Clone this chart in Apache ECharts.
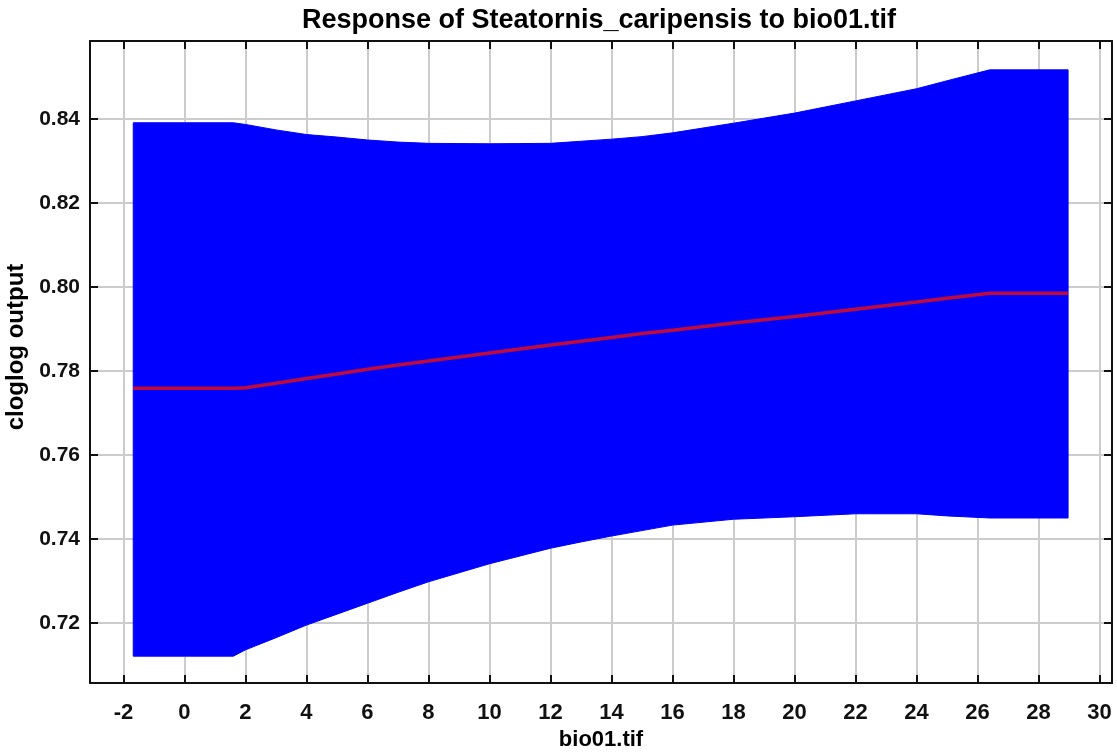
<!DOCTYPE html>
<html>
<head>
<meta charset="utf-8">
<script src="https://cdn.jsdelivr.net/npm/echarts@6/dist/echarts.min.js"></script>
<style>
html,body{margin:0;padding:0;background:#fff;}
#chart{width:1117px;height:753px;}
</style>
</head>
<body>
<div id="chart"></div>
<script>
// ---- data ----
var xValues = [-1.68, 0, 1.6, 2, 3, 4, 5, 6, 7, 8, 10, 12, 13, 14, 15, 16, 18, 20, 22, 24, 25, 26.4, 28.97];
var upperValues = [0.8391, 0.8391, 0.8391, 0.8387, 0.8374, 0.8363, 0.8357, 0.8350, 0.8345, 0.8342, 0.8341, 0.8342, 0.8347, 0.8352, 0.8358, 0.8367, 0.8390, 0.8414, 0.8443, 0.8472, 0.8491, 0.8517, 0.8517];
var lowerValues = [0.7121, 0.7121, 0.7121, 0.7136, 0.7165, 0.7195, 0.7221, 0.7247, 0.7273, 0.7298, 0.7341, 0.7378, 0.7393, 0.7407, 0.7420, 0.7433, 0.7447, 0.7453, 0.7460, 0.7460, 0.7455, 0.7450, 0.7450];
var meanValues = [0.7759, 0.7759, 0.7759, 0.7760, 0.7771, 0.7782, 0.7793, 0.7804, 0.7814, 0.7824, 0.7843, 0.7862, 0.7871, 0.7880, 0.7889, 0.7897, 0.7914, 0.7930, 0.7947, 0.7964, 0.7973, 0.7985, 0.7985];
var xTicks = [-2, 0, 2, 4, 6, 8, 10, 12, 14, 16, 18, 20, 22, 24, 26, 28, 30];
var yTicks = [0.72, 0.74, 0.76, 0.78, 0.80, 0.82, 0.84];
var titleText = 'Response of Steatornis_caripensis to bio01.tif';
var xName = 'bio01.tif';
var yName = 'cloglog output';

// ---- build series data ----
var bandData = xValues.map(function (x, i) { return [x, lowerValues[i], upperValues[i]]; });
var meanData = xValues.map(function (x, i) { return [x, meanValues[i]]; });

var FONT = 'Liberation Sans, Arial, Helvetica, sans-serif';
var gridLine = { show: true, lineStyle: { color: '#cccccc', width: 2 } };
var axisLine = { show: true, onZero: false, lineStyle: { color: '#111', width: 2 } };
var tickStyle = { color: '#111', width: 2 };

function renderBand(params, api) {
  if (params.dataIndex !== 0) return null;
  var pts = [];
  var i;
  for (i = 0; i < bandData.length; i++) pts.push(api.coord([bandData[i][0], bandData[i][2]]));
  for (i = bandData.length - 1; i >= 0; i--) pts.push(api.coord([bandData[i][0], bandData[i][1]]));
  return {
    type: 'polygon',
    shape: { points: pts },
    style: { fill: '#0000ff', stroke: '#0000ff', lineWidth: 1 }
  };
}

var chart = echarts.init(document.getElementById('chart'), null, { renderer: 'canvas' });
chart.setOption({
  backgroundColor: '#ffffff',
  animation: false,
  title: {
    text: titleText,
    left: 594,
    textAlign: 'center',
    top: 2,
    textStyle: { fontFamily: FONT, fontSize: 27, fontWeight: 'bold', color: '#000' }
  },
  grid: { left: 90, right: 5, top: 41, bottom: 70, containLabel: false, outerBoundsMode: 'none' },
  xAxis: [{
    type: 'value',
    position: 'bottom',
    min: -3.098,
    max: 30.41,
    name: xName,
    nameLocation: 'middle',
    nameGap: 45,
    nameTextStyle: { fontFamily: FONT, fontSize: 22, fontWeight: 'bold', color: '#000', verticalAlign: 'top' },
    axisLine: axisLine,
    axisTick: { show: true, inside: true, length: 8, customValues: xTicks, lineStyle: tickStyle },
    axisLabel: { show: true, customValues: xTicks, margin: 19, fontFamily: FONT, fontSize: 22, fontWeight: 'bold', color: '#111' },
    splitLine: gridLine,
    z: 0
  }, {
    type: 'value',
    position: 'top',
    min: -3.098,
    max: 30.41,
    axisLine: axisLine,
    axisTick: { show: true, inside: true, length: 8, customValues: xTicks, lineStyle: tickStyle },
    axisLabel: { show: false },
    splitLine: { show: false },
    z: 0
  }],
  yAxis: [{
    type: 'value',
    position: 'left',
    min: 0.70571,
    max: 0.85857,
    name: yName,
    nameLocation: 'middle',
    nameGap: 58,
    nameTextStyle: { fontFamily: FONT, fontSize: 24, fontWeight: 'bold', color: '#000', padding: [0, 0, 0, 30] },
    axisLine: axisLine,
    axisTick: { show: true, inside: true, length: 8, customValues: yTicks, lineStyle: tickStyle },
    axisLabel: {
      show: true, customValues: yTicks, margin: 10,
      fontFamily: FONT, fontSize: 21, fontWeight: 'bold', color: '#111',
      formatter: function (v) { return v.toFixed(2); }
    },
    splitLine: gridLine,
    z: 0
  }, {
    type: 'value',
    position: 'right',
    min: 0.70571,
    max: 0.85857,
    axisLine: axisLine,
    axisTick: { show: true, inside: true, length: 8, customValues: yTicks, lineStyle: tickStyle },
    axisLabel: { show: false },
    splitLine: { show: false },
    z: 0
  }],
  series: [{
    name: 'band',
    type: 'custom',
    xAxisIndex: 0, yAxisIndex: 0,
    data: bandData,
    encode: { x: 0, y: [1, 2] },
    renderItem: renderBand,
    clip: true,
    silent: true,
    z: 2
  }, {
    name: 'mean',
    type: 'line',
    xAxisIndex: 0, yAxisIndex: 0,
    data: meanData,
    showSymbol: false,
    symbol: 'none',
    lineStyle: { color: '#c00a3a', width: 3.5 },
    silent: true,
    z: 3
  }]
});
</script>
</body>
</html>
